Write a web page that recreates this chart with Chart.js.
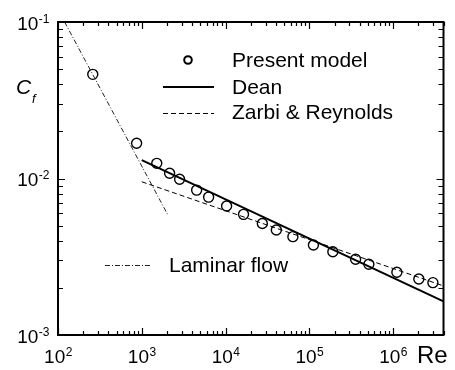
<!DOCTYPE html>
<html>
<head>
<meta charset="utf-8">
<script src="https://cdn.jsdelivr.net/npm/chart.js@4/dist/chart.umd.min.js"></script>
<style>
  html, body { margin: 0; padding: 0; background: #fff; }
  canvas { display: block; }
</style>
</head>
<body>
<canvas id="cf-chart" width="455" height="370"></canvas>
<script>
// Skin friction coefficient vs Reynolds number
const modelRe = [260, 868, 1510, 2150, 2830, 4520, 6280, 10300, 16400, 27500,
                 40400, 63700, 112000, 191000, 357000, 514000, 1110000, 2030000, 2990000];
const modelCf = [0.0463, 0.0168, 0.0125, 0.0108, 0.0099, 0.00843, 0.0076, 0.00667, 0.0059, 0.00516,
                 0.00469, 0.00425, 0.00376, 0.0034, 0.00305, 0.00283, 0.00252, 0.00228, 0.00216];

const deanRe = [1000, 4000000];
const deanCf = [0.0131, 0.00164];

const zarbiRe = [1000, 4000000];
const zarbiCf = [0.00953, 0.00206];

const laminarRe = [120, 2050];
const laminarCf = [0.1, 0.00585];

const xDecades = [2, 3, 4, 5, 6];
const yDecades = [-1, -2, -3];

const FONT = '"Liberation Sans", Arial, sans-serif';

const toPoints = (xs, ys) => xs.map((x, i) => ({ x: x, y: ys[i] }));

// frame, inward log ticks, superscript labels and legend
const decorations = {
  id: 'decorations',
  afterDraw(chart) {
    const ctx = chart.ctx;
    const area = chart.chartArea;
    const xs = chart.scales.x;
    const ys = chart.scales.y;
    ctx.save();
    ctx.strokeStyle = '#000';
    ctx.fillStyle = '#000';

    // ticks
    ctx.lineWidth = 1.2;
    ctx.beginPath();
    for (let e = 2; e <= 6; e++) {
      for (let m = 1; m <= 9; m++) {
        const v = m * Math.pow(10, e);
        if (v > xs.max) break;
        const px = Math.round(xs.getPixelForValue(v)) + 0.5;
        const len = m === 1 ? 7 : 4;
        ctx.moveTo(px, area.bottom); ctx.lineTo(px, area.bottom - len);
        ctx.moveTo(px, area.top); ctx.lineTo(px, area.top + len);
      }
    }
    for (let e = -3; e <= -1; e++) {
      for (let m = 1; m <= 9; m++) {
        const v = m * Math.pow(10, e);
        if (v > ys.max + 1e-12) break;
        const py = Math.round(ys.getPixelForValue(v)) + 0.5;
        const len = m === 1 ? 7 : 5;
        ctx.moveTo(area.left, py); ctx.lineTo(area.left + len, py);
        ctx.moveTo(area.right, py); ctx.lineTo(area.right - len, py);
      }
    }
    ctx.stroke();

    // frame
    ctx.lineWidth = 2;
    ctx.strokeRect(area.left, area.top, area.right - area.left, area.bottom - area.top);

    // x tick labels
    ctx.textBaseline = 'alphabetic';
    ctx.textAlign = 'left';
    xDecades.forEach(e => {
      const px = xs.getPixelForValue(Math.pow(10, e));
      ctx.font = '19px ' + FONT;
      const w1 = ctx.measureText('10').width;
      ctx.font = '12px ' + FONT;
      const w2 = ctx.measureText(String(e)).width;
      const x0 = px - (w1 + w2) / 2;
      ctx.font = '19px ' + FONT;
      ctx.fillText('10', x0, 363);
      ctx.font = '12px ' + FONT;
      ctx.fillText(String(e), x0 + w1 + 0.5, 356);
    });

    // y tick labels
    yDecades.forEach(e => {
      const py = ys.getPixelForValue(Math.pow(10, e));
      const exp = '-' + Math.abs(e);
      ctx.font = '12px ' + FONT;
      const w2 = ctx.measureText(exp).width;
      ctx.font = '19px ' + FONT;
      const w1 = ctx.measureText('10').width;
      const x0 = 49 - w2 - w1;
      ctx.fillText('10', x0, py + 7.5);
      ctx.font = '12px ' + FONT;
      ctx.fillText(exp, x0 + w1 + 0.5, py + 0.5);
    });

    // axis titles
    ctx.font = 'italic 21px ' + FONT;
    ctx.fillText('C', 16, 94);
    ctx.font = 'italic 13px ' + FONT;
    ctx.fillText('f', 32, 103);
    ctx.font = '24px ' + FONT;
    ctx.fillText('Re', 417, 363);

    // legend
    const ds = chart.data.datasets;
    ctx.textBaseline = 'middle';
    ctx.font = '21px ' + FONT;

    ctx.lineWidth = 2;
    ctx.beginPath();
    ctx.arc(188, 60, 3.8, 0, Math.PI * 2);
    ctx.stroke();
    ctx.fillText('Present model', 232, 61);

    const legendLine = (d, x1, x2, y) => {
      ctx.save();
      ctx.strokeStyle = d.borderColor;
      ctx.lineWidth = d.borderWidth;
      ctx.setLineDash(d.borderDash || []);
      ctx.beginPath();
      ctx.moveTo(x1, y); ctx.lineTo(x2, y);
      ctx.stroke();
      ctx.restore();
    };
    legendLine(ds[1], 163, 214, 87);
    ctx.fillText('Dean', 232, 88);
    legendLine(ds[2], 163, 214, 113.5);
    ctx.fillText('Zarbi & Reynolds', 232, 113);
    legendLine(ds[0], 105, 152, 265.5);
    ctx.fillText('Laminar flow', 169, 266);

    ctx.restore();
  }
};

new Chart(document.getElementById('cf-chart'), {
  type: 'scatter',
  data: {
    datasets: [
      {
        label: 'Laminar flow',
        data: toPoints(laminarRe, laminarCf),
        showLine: true,
        borderColor: '#222',
        borderWidth: 1,
        borderDash: [5, 2, 1, 2],
        pointRadius: 0,
      },
      {
        label: 'Dean',
        data: toPoints(deanRe, deanCf),
        showLine: true,
        borderColor: '#000',
        borderWidth: 2,
        pointRadius: 0,
      },
      {
        label: 'Zarbi & Reynolds',
        data: toPoints(zarbiRe, zarbiCf),
        showLine: true,
        borderColor: '#000',
        borderWidth: 1,
        borderDash: [5, 3],
        pointRadius: 0,
      },
      {
        label: 'Present model',
        data: toPoints(modelRe, modelCf),
        showLine: false,
        pointStyle: 'circle',
        pointRadius: 5,
        pointBorderWidth: 1.4,
        pointBorderColor: '#000',
        pointBackgroundColor: 'rgba(255,255,255,0)',
      },
    ],
  },
  options: {
    responsive: false,
    animation: false,
    clip: false,
    layout: { padding: { left: 58, top: 22, right: 11.5, bottom: 35 } },
    plugins: {
      legend: { display: false },
      tooltip: { enabled: false },
    },
    scales: {
      x: { type: 'logarithmic', min: 100, max: 4000000, display: false },
      y: { type: 'logarithmic', min: 0.001, max: 0.1, display: false },
    },
  },
  plugins: [decorations],
});
</script>
</body>
</html>
